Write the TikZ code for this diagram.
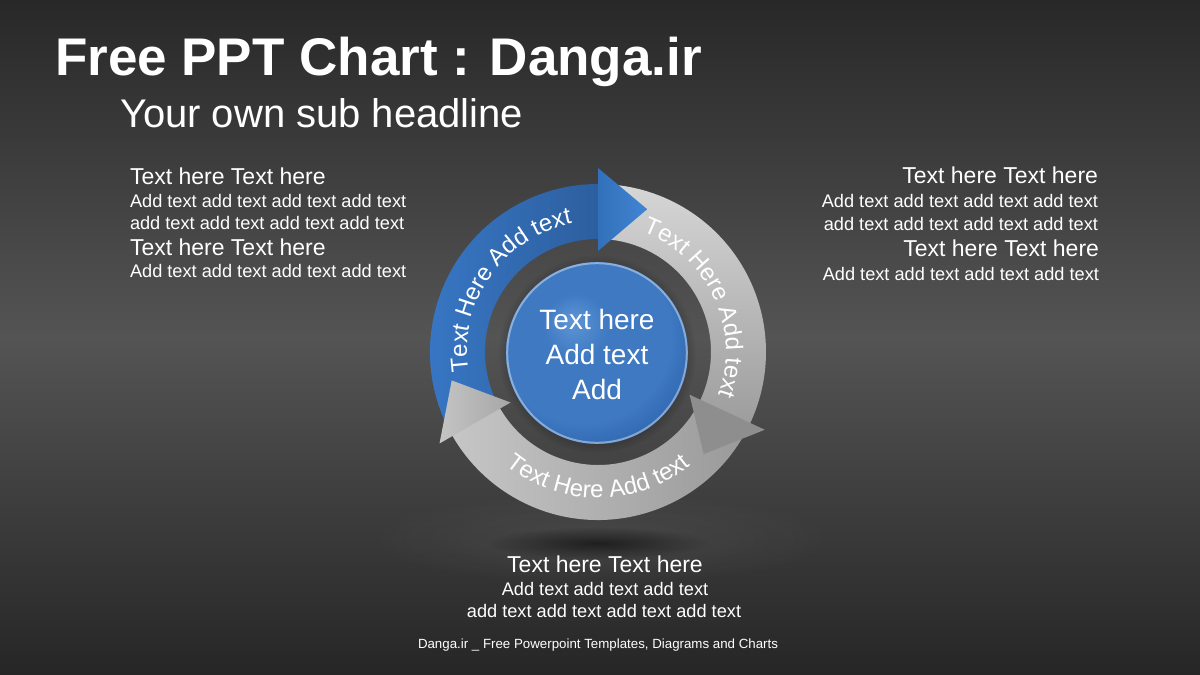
\documentclass[tikz,border=0pt]{standalone}
\usepackage{fontspec}
\setmainfont{Liberation Sans}
\usetikzlibrary{decorations.text,fadings,shadings}
\definecolor{bgTop}{HTML}{282828}
\definecolor{bgMid}{HTML}{545454}
\definecolor{bgBot}{HTML}{262626}
\definecolor{blueL}{HTML}{3979C8}
\definecolor{blueR}{HTML}{2C5E9E}
\definecolor{blueHL}{HTML}{3270BA}
\definecolor{blueHR}{HTML}{4185D2}
\definecolor{grayRT}{HTML}{D6D6D6}
\definecolor{grayRB}{HTML}{9C9C9C}
\definecolor{grayRH}{HTML}{8E8E8E}
\definecolor{grayBL}{HTML}{C6C6C6}
\definecolor{grayBR}{HTML}{9A9A9A}
\definecolor{grayBH}{HTML}{C4C4C4}
\definecolor{sphA}{HTML}{5E95D5}
\definecolor{sphB}{HTML}{3E79C2}
\definecolor{sphC}{HTML}{2B60A8}
\pgfdeclareradialshading{sphshade}{\pgfpoint{-7bp}{9bp}}{color(0bp)=(sphA); color(9bp)=(sphB); color(24bp)=(sphB); color(33bp)=(sphC); color(50bp)=(sphC)}
\tikzfading[name=softglow, inner color=transparent!0, outer color=transparent!100]
\newcommand{\fTitle}{\fontsize{53}{60}\selectfont\bfseries}
\newcommand{\fSub}{\fontsize{40}{46}\selectfont}
\newcommand{\fHead}{\fontsize{23}{27}\selectfont}
\newcommand{\fBody}{\fontsize{18.2}{22}\selectfont}
\newcommand{\fCurve}{\fontsize{24}{28}\selectfont}
\newcommand{\fCenter}{\fontsize{28}{34}\selectfont}
\newcommand{\fFoot}{\fontsize{13.3}{16}\selectfont}
\begin{document}
\begin{tikzpicture}[x=1pt,y=1pt,
  txt/.style={text=white, inner sep=0pt, outer sep=0pt}]
% background
\shade[top color=bgTop, bottom color=bgBot, middle color=bgMid] (0,0) rectangle (1200,675);
\useasboundingbox (0,0) rectangle (1200,675);
% floor glow and shadow
\fill[white, fill opacity=0.07, path fading=softglow] (600,136) ellipse [x radius=240pt, y radius=48pt];
\fill[black, fill opacity=0.55, path fading=softglow] (598,132) ellipse [x radius=110pt, y radius=16pt];
% sphere shadow
\fill[black, fill opacity=0.35, path fading=circle with fuzzy edge 20 percent] (597,321) circle (99pt);

\begin{scope}[shift={(598,323)}]
% shafts
\shade[left color=blueL, right color=blueR]
  (206:168pt) arc[start angle=206, end angle=88, radius=168pt]
  -- (88:113pt) arc[start angle=88, end angle=206, radius=113pt] -- cycle;
\shade[top color=grayRT, bottom color=grayRB]
  (86:168pt) arc[start angle=86, end angle=-27, radius=168pt]
  -- (-27:113pt) arc[start angle=-27, end angle=86, radius=113pt] -- cycle;
\shade[left color=grayBL, right color=grayBR]
  (-29:168pt) arc[start angle=-29, end angle=-152, radius=168pt]
  -- (-152:113pt) arc[start angle=-152, end angle=-29, radius=113pt] -- cycle;
% heads
\shade[left color=blueHL, right color=blueHR] (90:184pt) -- (71:151pt) -- (90:101pt) -- cycle;
\fill[grayRH] (-25:184pt) -- (-44:147pt) -- (-25:101pt) -- cycle;
\shade[left color=grayBH, right color=grayBH!85!black] (-150:183pt) -- (-169:149pt) -- (-150:101pt) -- cycle;
% curved labels
\path[decorate, decoration={text along path, text align=center, text color=white,
  text={|\fCurve\color{white}|Text Here Add text}}]
  (205:131pt) arc[start angle=205, end angle=85, radius=131pt];
\path[decorate, decoration={text along path, text align=center, text color=white,
  text={|\fCurve\color{white}|Text Here Add text}}]
  (85:128pt) arc[start angle=85, end angle=-35, radius=128pt];
\path[decorate, decoration={text along path, text align=center, text color=white,
  text={|\fCurve\color{white}|Text Here Add text}}]
  (210:146pt) arc[start angle=210, end angle=330, radius=146pt];
\end{scope}

% sphere
\shade[shading=sphshade] (597,322) circle (91pt);
\draw[white, draw opacity=0.4, line width=2pt] (597,322) circle (89.8pt);
\node[txt, font=\fCenter, anchor=base] (c1) at (597,345) {Text here};
\node[txt, font=\fCenter, anchor=base] (c2) at (597,310) {Add text};
\node[txt, font=\fCenter, anchor=base] (c3) at (597,275) {Add};

% titles
\node[txt, font=\fTitle, anchor=base west] (title) at (55,599) {Free PPT Chart : Danga.ir};
\node[txt, font=\fSub, anchor=base west] (sub) at (120,547) {Your own sub headline};

% left block
\node[txt, font=\fHead, anchor=base west] (l1) at (130,490) {Text here Text here};
\node[txt, font=\fBody, anchor=base west] (l2) at (130,467) {Add text add text add text add text};
\node[txt, font=\fBody, anchor=base west] (l3) at (130,445) {add text add text add text add text};
\node[txt, font=\fHead, anchor=base west] (l4) at (130,419) {Text here Text here};
\node[txt, font=\fBody, anchor=base west] (l5) at (130,397) {Add text add text add text add text};

% right block
\node[txt, font=\fHead, anchor=base east] (r1) at (1098,491) {Text here Text here};
\node[txt, font=\fBody, anchor=base east] (r2) at (1098,467) {Add text add text add text add text};
\node[txt, font=\fBody, anchor=base east] (r3) at (1098,444) {add text add text add text add text};
\node[txt, font=\fHead, anchor=base east] (r4) at (1099,418) {Text here Text here};
\node[txt, font=\fBody, anchor=base east] (r5) at (1099,394) {Add text add text add text add text};

% bottom block
\node[txt, font=\fHead, anchor=base] (b1) at (605,102) {Text here Text here};
\node[txt, font=\fBody, anchor=base] (b2) at (605,79) {Add text add text add text};
\node[txt, font=\fBody, anchor=base] (b3) at (604,57) {add text add text add text add text};

% footer
\node[txt, font=\fFoot, anchor=base] (foot) at (598,27) {Danga.ir \_ Free Powerpoint Templates, Diagrams and Charts};
\end{tikzpicture}
\end{document}
